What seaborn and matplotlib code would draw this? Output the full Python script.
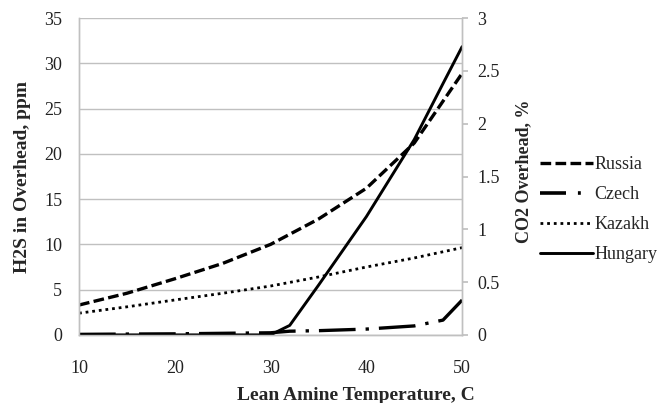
import matplotlib
matplotlib.use("Agg")
import matplotlib.pyplot as plt
import seaborn as sns
import pandas as pd
from matplotlib.lines import Line2D

# --- data ---
temp_h2s = [10, 15, 20, 25, 30, 35, 40, 45, 50]
russia_ppm = [3.3, 4.6, 6.2, 7.9, 10.0, 12.8, 16.2, 21.2, 28.9]
kazakh_ppm = [2.4, 3.1, 3.86, 4.6, 5.4, 6.4, 7.5, 8.5, 9.64]

temp_co2 = [10, 15, 20, 25, 30, 32, 35, 40, 45, 48, 50]
czech_pct = [0.005, 0.008, 0.01, 0.015, 0.02, 0.035, 0.04, 0.055, 0.085, 0.14, 0.33]
hungary_pct = [0.0, 0.0, 0.0, 0.0, 0.0, 0.09, 0.47, 1.12, 1.85, 2.38, 2.73]

series_labels = ["Russia", "Czech", "Kazakh", "Hungary"]
xlabel = "Lean Amine Temperature, C"
ylabel_left = "H2S in Overhead, ppm"
ylabel_right = "CO2 Overhead, %"

sns.set_theme(style="white")
plt.rcParams["font.family"] = ["Liberation Serif", "DejaVu Serif"]

fig = plt.figure(figsize=(6.64, 4.03), dpi=100)
ax = fig.add_axes([0.119, 0.169, 0.577, 0.786])
ax2 = ax.twinx()

df_h = pd.DataFrame({"t": temp_h2s, "russia": russia_ppm, "kazakh": kazakh_ppm})
df_c = pd.DataFrame({"t": temp_co2, "czech": czech_pct, "hungary": hungary_pct})

styles = {
    "Russia": dict(linestyle=(0, (3.2, 1.3)), linewidth=2.4),
    "Czech": dict(linestyle=(0, (11, 3, 1, 3)), linewidth=2.4),
    "Kazakh": dict(linestyle=(0, (1, 1.4)), linewidth=2.0),
    "Hungary": dict(linestyle="-", linewidth=2.1),
}
legend_styles = dict(styles)
legend_styles["Czech"] = dict(linestyle=(0, (7.2, 3.3, 0.8, 5)), linewidth=2.6)

sns.lineplot(data=df_h, x="t", y="russia", ax=ax, color="black", **styles["Russia"])
sns.lineplot(data=df_h, x="t", y="kazakh", ax=ax, color="black", **styles["Kazakh"])
sns.lineplot(data=df_c, x="t", y="czech", ax=ax2, color="black", **styles["Czech"])
sns.lineplot(data=df_c, x="t", y="hungary", ax=ax2, color="black", **styles["Hungary"])

ax.set_xlim(10, 50)
ax.set_ylim(0, 35)
ax2.set_ylim(0, 3)
ax.set_xticks([10, 20, 30, 40, 50])
ax.set_yticks(range(0, 36, 5))
ax2.set_yticks([0, 0.5, 1, 1.5, 2, 2.5, 3])
ax2.set_yticklabels(["0", "0.5", "1", "1.5", "2", "2.5", "3"])

grid_c = "#c0c0c0"
ax.yaxis.grid(True, color=grid_c, linewidth=1.0)
ax.xaxis.grid(False)
ax2.grid(False)
for a in (ax, ax2):
    for s in a.spines.values():
        s.set_color(grid_c)
        s.set_linewidth(1.0)
    a.spines["top"].set_visible(False)
ax.tick_params(axis="x", length=0, labelsize=13, colors="#222222", pad=18)
ax.tick_params(axis="y", length=0, labelsize=13, colors="#222222", pad=12)
ax2.tick_params(axis="y", length=4, color=grid_c, labelsize=13, labelcolor="#222222", pad=7)

ax.set_xlabel(xlabel, fontsize=14, fontweight="bold")
ax.xaxis.set_label_coords(0.723, -0.163)
ax.set_ylabel(ylabel_left, fontsize=14, fontweight="bold")
ax.yaxis.set_label_coords(-0.125, 0.498)
ax2.set_ylabel(ylabel_right, fontsize=13, fontweight="bold")
ax2.yaxis.set_label_coords(1.138, 0.516)

handles = [Line2D([], [], color="black", **legend_styles[k]) for k in series_labels]
fig.legend(handles, series_labels, loc="center left", bbox_to_anchor=(0.814, 0.479),
           frameon=False, fontsize=13, handlelength=2.9, handletextpad=0.1,
           labelspacing=0.72, borderpad=0, borderaxespad=0)

fig.savefig("out.png", dpi=100)
